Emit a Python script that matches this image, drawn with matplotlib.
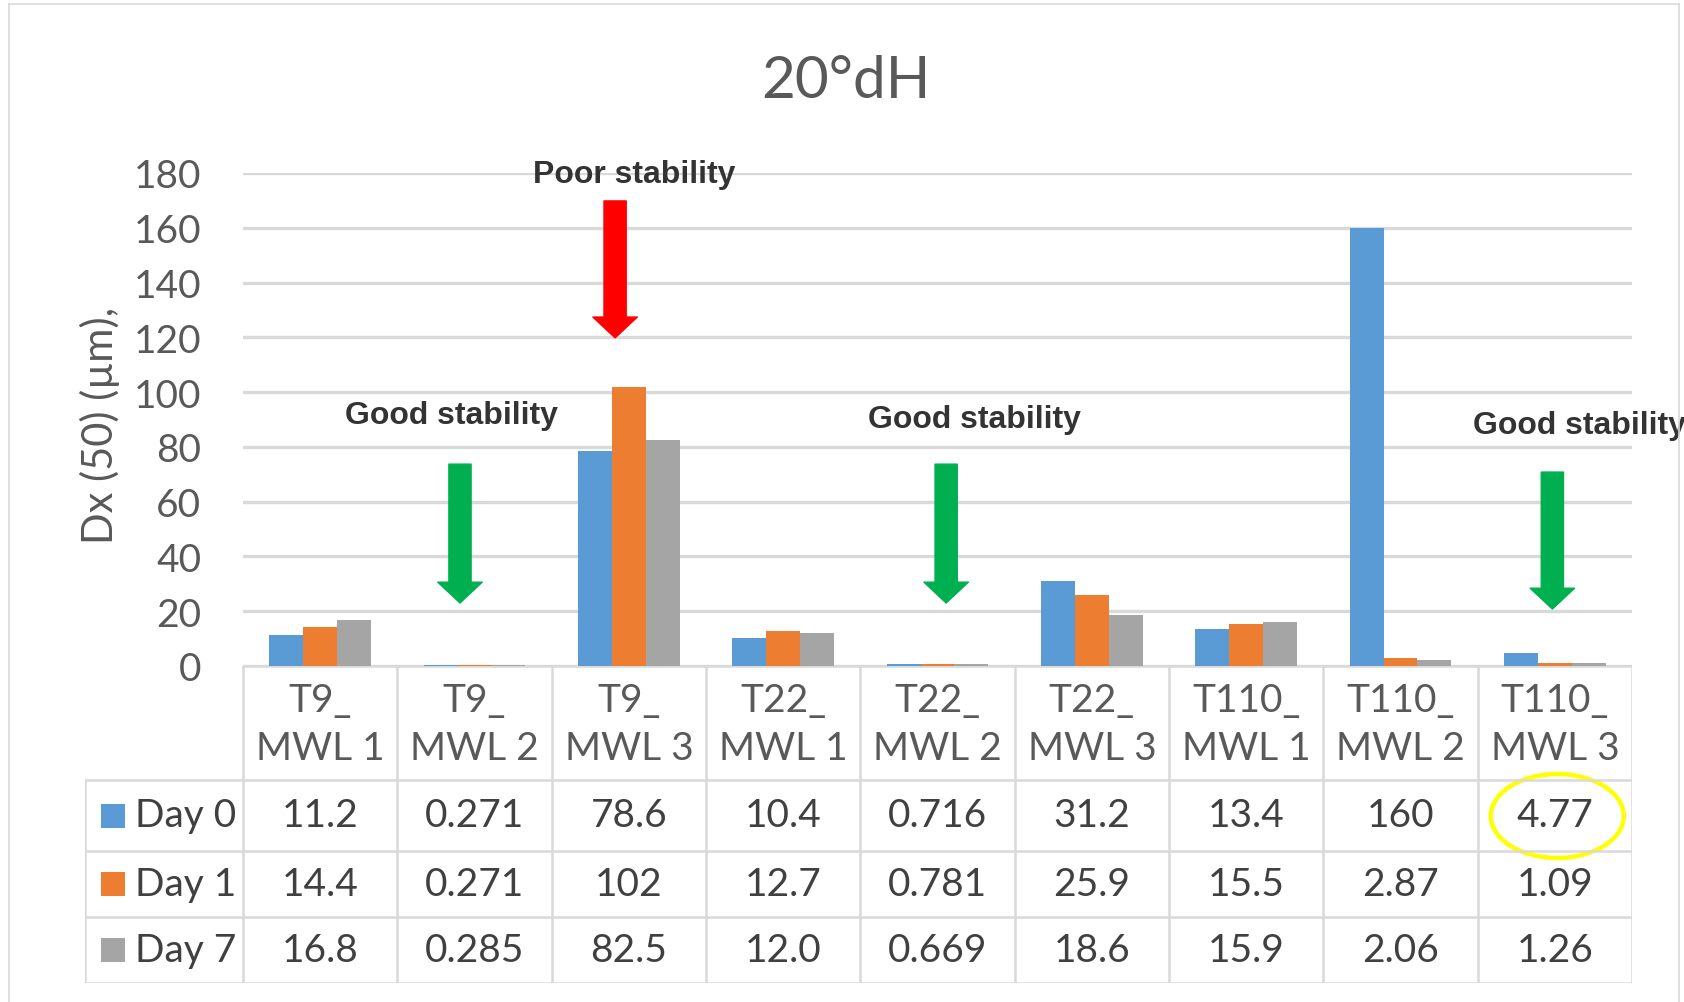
import matplotlib
matplotlib.use('Agg')
import matplotlib.pyplot as plt
import numpy as np
from matplotlib.patches import Rectangle, Ellipse, FancyArrowPatch
from matplotlib.lines import Line2D

plt.rcParams['font.family'] = ['Lato', 'DejaVu Sans']

# Datos
muestras = ['T9_\nMWL 1', 'T9_\nMWL 2', 'T9_\nMWL 3',
            'T22_\nMWL 1', 'T22_\nMWL 2', 'T22_\nMWL 3',
            'T110_\nMWL 1', 'T110_\nMWL 2', 'T110_\nMWL 3']
dia0 = [11.2, 0.271, 78.6, 10.4, 0.716, 31.2, 13.4, 160, 4.77]
dia1 = [14.4, 0.271, 102, 12.7, 0.781, 25.9, 15.5, 2.87, 1.09]
dia7 = [16.8, 0.285, 82.5, 12.0, 0.669, 18.6, 15.9, 2.06, 1.26]
etiquetas_dia = ['Day 0', 'Day 1', 'Day 7']
textos_dia = [['11.2', '0.271', '78.6', '10.4', '0.716', '31.2', '13.4', '160', '4.77'],
              ['14.4', '0.271', '102', '12.7', '0.781', '25.9', '15.5', '2.87', '1.09'],
              ['16.8', '0.285', '82.5', '12.0', '0.669', '18.6', '15.9', '2.06', '1.26']]
yticks = [0, 20, 40, 60, 80, 100, 120, 140, 160, 180]

COLORES = ['#5B9BD5', '#ED7D31', '#A5A5A5']
GRIS_LINEA = '#D9D9D9'
GRIS_TEXTO = '#595959'

W, H = 1684, 1003
fig = plt.figure(figsize=(W / 100, H / 100), dpi=100)

# Ejes principales (barras)
ax = fig.add_axes([243 / W, 1 - 667 / H, (1632 - 243) / W, (667 - 174) / H])
x = np.arange(len(muestras))
ancho = 0.22
for i, serie in enumerate([dia0, dia1, dia7]):
    ax.bar(x + (i - 1) * ancho, serie, ancho, color=COLORES[i], zorder=3)

ax.set_xlim(-0.5, len(muestras) - 0.5)
ax.set_ylim(0, 180)
ax.set_yticks(yticks)
ax.set_xticks([])
ax.tick_params(axis='y', length=0, pad=30, labelsize=28, labelcolor=GRIS_TEXTO)
for s in ax.spines.values():
    s.set_visible(False)
ax.yaxis.grid(True, color=GRIS_LINEA, linewidth=2.4, zorder=0)
ax.set_axisbelow(True)
ax.set_ylabel('Dx (50) (µm),', fontsize=30, color=GRIS_TEXTO)
ax.yaxis.set_label_coords(-0.0885, 0.49)

fig.text(846 / W, 1 - 81 / H, '20°dH', fontsize=42, color=GRIS_TEXTO,
         ha='center', va='center')

# Anotaciones
def flecha(xp, y0, y1, color):
    arr = FancyArrowPatch((xp, y0), (xp, y1),
                          arrowstyle='simple,head_length=15,head_width=32,tail_width=16',
                          mutation_scale=1, color=color, shrinkA=0, shrinkB=0,
                          clip_on=False, zorder=5)
    ax.add_patch(arr)

flecha(1.911, 169.8, 119.8, '#FF0000')
flecha(0.906, 73.7, 23.0, '#00B050')
flecha(4.056, 73.7, 23.0, '#00B050')
flecha(7.984, 70.8, 20.8, '#00B050')

fuente_anot = dict(fontsize=23, fontweight='bold', color='#333333',
                   family=['Liberation Sans', 'DejaVu Sans'], va='center',
                   clip_on=False, zorder=6)
ax.text(2.034, 179.6, 'Poor stability', ha='center', **fuente_anot)
ax.text(0.848, 91.6, 'Good stability', ha='center', **fuente_anot)
ax.text(4.237, 90.2, 'Good stability', ha='center', **fuente_anot)
ax.text(7.47, 88.0, 'Good stability', ha='left', **fuente_anot)

# Tabla de datos
tab = fig.add_axes([85 / W, 1 - 984 / H, (1632 - 85) / W, (984 - 667) / H])
x_izq = 8.5 - (1632 - 85) / ((1632 - 243) / 9)
tab.set_xlim(x_izq, 8.5)
tab.set_ylim(317, 0)
tab.axis('off')
filas = [0, 114, 185, 251, 317]
kw_linea = dict(color=GRIS_LINEA, linewidth=1.8)
tab.plot([-0.5, 8.5], [0, 0], **kw_linea)
for yy in filas[1:]:
    tab.plot([x_izq, 8.5], [yy, yy], **kw_linea)
for k in range(len(muestras) + 1):
    tab.plot([k - 0.5, k - 0.5], [0, 317], **kw_linea)
tab.plot([x_izq, x_izq], [114, 317], **kw_linea)

for k, nombre in enumerate(muestras):
    tab.text(k, 58, nombre, ha='center', va='center', fontsize=28,
             color=GRIS_TEXTO, linespacing=1.4)

px_x = (1632 - 243) / 9
for r, etiqueta in enumerate(etiquetas_dia):
    yc = (filas[r + 1] + filas[r + 2]) / 2
    tab.add_patch(Rectangle((x_izq + 16 / px_x, yc - 12), 24 / px_x, 24,
                            color=COLORES[r], linewidth=0))
    tab.text(x_izq + 50 / px_x, yc, etiqueta, ha='left', va='center',
             fontsize=28, color='#404040')
    for k, t in enumerate(textos_dia[r]):
        tab.text(k, yc, t, ha='center', va='center', fontsize=28, color='#404040')

tab.add_patch(Ellipse((8.016, 150), 133 / px_x, 84, fill=False,
                      edgecolor='#FFFF00', linewidth=3.2, clip_on=False))

# Marco exterior
for xs, ys in [([9, 9], [5, H]), ([9, 1679], [5, 5]), ([1679, 1679], [5, H])]:
    fig.add_artist(Line2D([v / W for v in xs], [1 - v / H for v in ys],
                          color=GRIS_LINEA, linewidth=1.2))

fig.savefig('out.png', dpi=100)
